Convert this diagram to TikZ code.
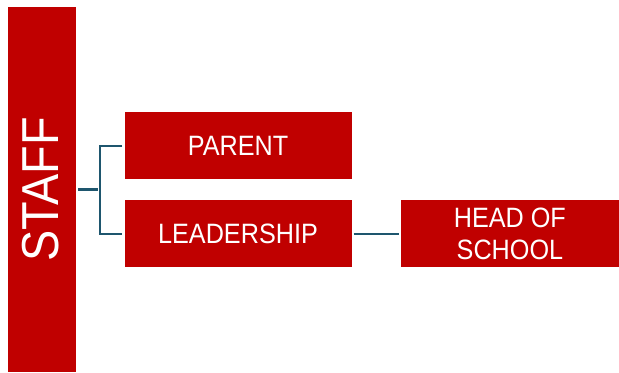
\documentclass[tikz,border=0pt]{standalone}
\usepackage{fontspec}
\setmainfont{Liberation Sans}
\usetikzlibrary{positioning}
\definecolor{boxred}{RGB}{192,0,0}
\definecolor{linkteal}{RGB}{30,86,110}
\newcommand{\squash}[1]{\scalebox{0.9}[1]{#1}}
\tikzset{redbox/.style={fill=boxred,text=white,inner sep=0pt,font=\fontsize{28bp}{32bp}\selectfont},
         link/.style={draw=linkteal,line width=2.2bp,shorten <=2bp,shorten >=2bp}}

\begin{document}
\begin{tikzpicture}[x=1bp,y=-1bp]
                  \useasboundingbox (0,0) rectangle (619,372);
                  \node[redbox,rotate=90,minimum width=365bp,minimum height=67.5bp,font=\fontsize{52bp}{52bp}\selectfont] (staff) at (42.25,189.5) {\raisebox{3bp}{\squash{STAFF}}};
                  \node[redbox,minimum width=227bp,minimum height=66.5bp] (parent) at (238,145.7) {\squash{PARENT}};
                  \node[redbox,minimum width=227bp,minimum height=66.5bp,below=21bp of parent] (leadership) {\squash{LEADERSHIP}};
                  \node[redbox,minimum width=218bp,minimum height=66.5bp,right=49bp of leadership,align=center] (head) {\squash{HEAD OF}\\\squash{SCHOOL}};
                  \draw[link] (staff.south) -- ++(24,0);
                  \draw[link] (parent.west) -- ++(-24,0) |- (leadership.west);
                  \draw[link] (leadership) -- (head);
              \end{tikzpicture}
\end{document}
